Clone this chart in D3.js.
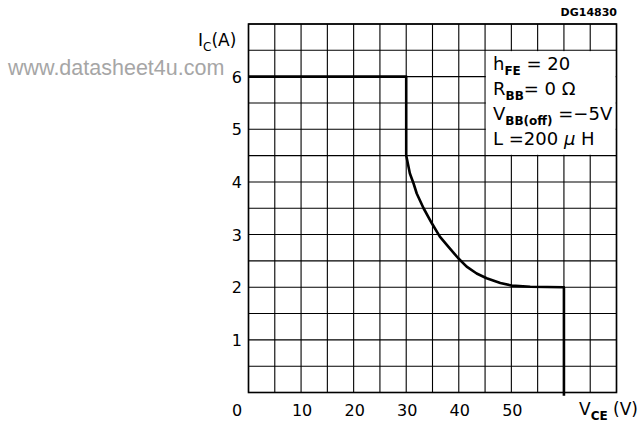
<!DOCTYPE html>
<html><head><meta charset="utf-8">
<script src="https://cdn.jsdelivr.net/npm/d3@7"></script>
<style>body{margin:0;background:#fff}svg{display:block}</style>
</head><body><svg id="c" width="640" height="425"></svg>
<script>
const xTicks = [0, 10, 20, 30, 40, 50];
const yTicks = [1, 2, 3, 4, 5, 6];
const gridX = d3.range(0, 70.01, 5);
const gridY = d3.range(0, 7.01, 0.5);
// RBSOA boundary (V_CE, I_C)
const vce = [0, 30, 30, 30.7, 31.4, 32.0, 33.3, 34.9, 36.4, 38.0, 39.9, 41.5, 43.4, 45.3, 47.9, 50.1, 53.6, 60, 60];
const ic  = [6, 6, 4.5, 4.16, 3.97, 3.78, 3.50, 3.21, 2.96, 2.77, 2.55, 2.39, 2.26, 2.17, 2.08, 2.03, 2.01, 2.0, -0.06];
const legendLines = [
  [["h", ""], ["FE", "sub"], [" = 20", ""]],
  [["R", ""], ["BB", "sub"], ["= 0 \u03A9", ""]],
  [["V", ""], ["BB(off)", "sub"], [" =\u22125V", ""]],
  [["L =200 ", ""], ["\u03BC", "it"], [" H", ""]]
];

const svg = d3.select("#c");
const x = d3.scaleLinear().domain([0, 70]).range([248.5, 616.5]);
const y = d3.scaleLinear().domain([0, 7]).range([392.5, 24]);
const font = "'DejaVu Sans', sans-serif";

// watermark
svg.append("text").attr("x", 8).attr("y", 75).attr("font-family", "'Liberation Sans', Arial, sans-serif")
  .attr("font-size", 21.5).attr("fill", "#a6a6a6").text("www.datasheet4u.com");

// grid
const g = svg.append("g");
g.selectAll("line.vx").data(gridX).join("line")
  .attr("x1", d => x(d)).attr("x2", d => x(d)).attr("y1", y(0)).attr("y2", y(7))
  .attr("stroke", "#000").attr("stroke-width", 1.1);
g.selectAll("line.hy").data(gridY).join("line")
  .attr("y1", d => y(d)).attr("y2", d => y(d)).attr("x1", x(0)).attr("x2", x(70))
  .attr("stroke", "#000").attr("stroke-width", 1.1);

// legend box
g.append("rect").attr("x", x(45) + 0.8).attr("y", y(6.5) + 0.8)
  .attr("width", x(70) - x(45) - 1.6).attr("height", y(4.5) - y(6.5) - 1.6).attr("fill", "#fff");

// frame
g.append("rect").attr("x", x(0)).attr("y", y(7)).attr("width", x(70) - x(0)).attr("height", y(0) - y(7))
  .attr("fill", "none").attr("stroke", "#000").attr("stroke-width", 1.6);

// curve
const pts = vce.map((v, i) => [v, ic[i]]);
svg.append("path").datum(pts)
  .attr("d", d3.line().x(d => x(d[0])).y(d => y(d[1])))
  .attr("fill", "none").attr("stroke", "#000").attr("stroke-width", 2.6).attr("stroke-linejoin", "round");

// y axis labels
svg.selectAll("text.yt").data(yTicks).join("text")
  .attr("x", 242).attr("y", d => y(d) + 6).attr("text-anchor", "end")
  .attr("font-family", font).attr("font-size", 16).text(d => d);
// x axis labels
svg.selectAll("text.xt").data(xTicks).join("text")
  .attr("x", d => d === 0 ? 237 : x(d) + 1).attr("y", 416).attr("text-anchor", "middle")
  .attr("font-family", font).attr("font-size", 16).text(d => d);

// axis titles
const ya = svg.append("text").attr("x", 198).attr("y", 46).attr("font-family", font).attr("font-size", 17);
ya.append("tspan").text("I");
ya.append("tspan").attr("font-size", 12).attr("dy", 5).text("C");
ya.append("tspan").attr("dy", -5).text("(A)");
const xa = svg.append("text").attr("x", 579).attr("y", 415).attr("font-family", font).attr("font-size", 17);
xa.append("tspan").text("V");
xa.append("tspan").attr("font-size", 12).attr("dy", 5).attr("font-weight", "bold").text("CE");
xa.append("tspan").attr("dy", -5).text(" (V)");

svg.append("text").attr("x", 617).attr("y", 16).attr("text-anchor", "end")
  .attr("font-family", font).attr("font-size", 11).attr("font-weight", "bold").text("DG14830");

// legend text
legendLines.forEach((parts, i) => {
  const t = svg.append("text").attr("x", 493).attr("y", 70 + i * 25)
    .attr("font-family", font).attr("font-size", 18);
  let shifted = false;
  parts.forEach(([s, k]) => {
    const ts = t.append("tspan").text(s);
    if (k === "sub") { ts.attr("font-size", 12).attr("font-weight", "bold").attr("dy", 5); shifted = true; }
    else if (shifted) { ts.attr("dy", -5); shifted = false; }
    if (k === "it") ts.attr("font-style", "italic");
  });
});
</script></body></html>
